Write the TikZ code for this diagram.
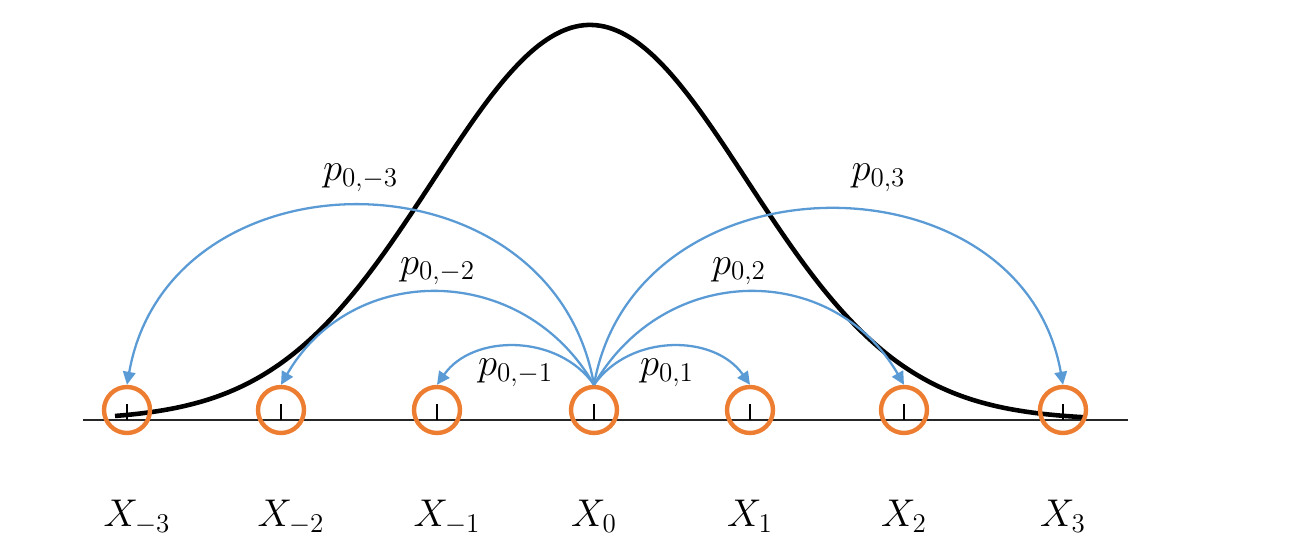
\documentclass[tikz,border=0pt]{standalone}
\usepackage{fix-cm}
\usetikzlibrary{
    arrows.meta,
    positioning
}
\definecolor{jump blue}{RGB}{91,155,213}
\definecolor{state orange}{RGB}{237,125,49}
\tikzset{
    % Colors
    nice blue/.style={color=jump blue},
    nice orange/.style={color=state orange},
    %
    % Nodes
    state node/.style={circle,draw,nice orange,line width=2.5pt,minimum size=0.92cm,inner sep=0pt},
    state label/.style={inner sep=0pt},
    jump label/.style={text=black},
    tick mark/.style={line width=1.3pt},
    %
    % Lines and arrows
    axis line/.style={line width=0.9pt,black!85},
    density/.style={line width=2.6pt,line join=round},
    arrow tip/.tip={Triangle[length=0.26cm,width=0.25cm]},
    jump/.style={nice blue,line width=1.3pt,-{arrow tip}}
}
\tikzstyle{every node}=[font=\fontsize{22}{26}\selectfont]

\begin{document}
\begin{tikzpicture}
    \useasboundingbox (0,0) rectangle (26,10.86);
    \coordinate (axis start) at (1.66,2.46);
    \coordinate (axis end) at (22.56,2.46);
    \draw[axis line] (axis start) -- (axis end);
    % normal density
    \draw[density] plot[domain=2.3:21.7,samples=120,smooth] (\x,{2.46+7.9*exp(-((\x-11.8)^2)/19.7)});
    % states
    \node[state node] (Xm3) at (2.54,2.66) {};
    \node[state node] (Xm2) at (5.62,2.66) {};
    \node[state node] (Xm1) at (8.74,2.66) {};
    \node[state node] (X0) at (11.88,2.66) {};
    \node[state node] (X1) at (15.0,2.66) {};
    \node[state node] (X2) at (18.08,2.66) {};
    \node[state node] (X3) at (21.26,2.66) {};
    \foreach \s in {Xm3,Xm2,Xm1,X0,X1,X2,X3}
        \draw[tick mark] (\s.center) ++(0,-0.2) -- ++(0,0.32);
    \node[state label,below=1.3cm of Xm3,xshift=0.2cm] {$X_{-3}$};
    \node[state label,below=1.3cm of Xm2,xshift=0.2cm] {$X_{-2}$};
    \node[state label,below=1.3cm of Xm1,xshift=0.2cm] {$X_{-1}$};
    \node[state label,below=1.3cm of X0] {$X_0$};
    \node[state label,below=1.3cm of X1] {$X_1$};
    \node[state label,below=1.3cm of X2] {$X_2$};
    \node[state label,below=1.3cm of X3] {$X_3$};
    % transitions
    \draw[jump] (X0.north) .. controls +(125:1.25) and +(55:1.25) .. (Xm1.north) node[jump label,midway,below=3pt] {$p_{0,-1}$};
    \draw[jump] (X0.north) .. controls +(55:1.25) and +(125:1.25) .. (X1.north) node[jump label,midway,below=3pt,xshift=-0.1cm] {$p_{0,1}$};
    \draw[jump] (X0.north) .. controls +(120:2.85) and +(60:2.85) .. (Xm2.north) node[jump label,midway,above=0pt] {$p_{0,-2}$};
    \draw[jump] (X0.north) .. controls +(60:2.85) and +(120:2.85) .. (X2.north) node[jump label,midway,above=0pt,xshift=-0.2cm] {$p_{0,2}$};
    \draw[jump] (X0.north) .. controls +(100:4.85) and +(80:4.85) .. (Xm3.north) node[jump label,midway,above=4pt] {$p_{0,-3}$};
    \draw[jump] (X0.north) .. controls +(80:4.75) and +(100:4.75) .. (X3.north) node[jump label,midway,above=6pt,xshift=1cm] {$p_{0,3}$};
\end{tikzpicture}
\end{document}
